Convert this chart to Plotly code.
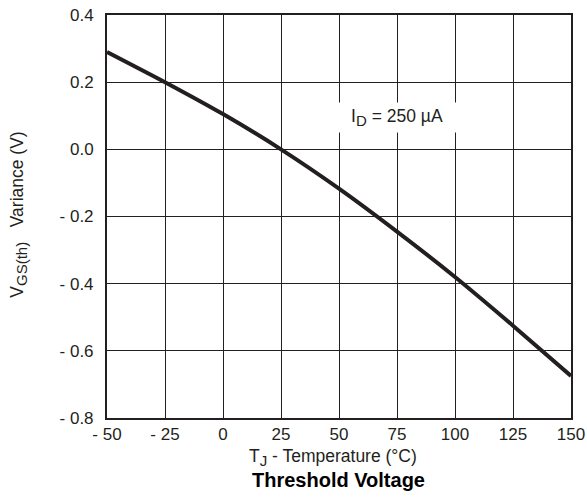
import plotly.graph_objects as go

temps = [-50, -25, 0, 25, 50, 75, 100, 125, 150]
variance = [0.29, 0.20, 0.105, 0.0, -0.117, -0.245, -0.38, -0.525, -0.675]

x_ticks = [-50, -25, 0, 25, 50, 75, 100, 125, 150]
x_labels = ["- 50", "- 25", "0", "25", "50", "75", "100", "125", "150"]
y_ticks = [0.4, 0.2, 0.0, -0.2, -0.4, -0.6, -0.8]
y_labels = ["0.4", "0.2", "0.0", "- 0.2", "- 0.4", "- 0.6", "- 0.8"]

ink = "#231f20"
font = "Liberation Sans, Arial, sans-serif"

def sub(s, size=15):
    return f"<sub><span style='font-size:{size}px'>{s}</span></sub>"

fig = go.Figure()
fig.add_trace(go.Scatter(x=temps, y=variance, mode="lines",
                         line=dict(color=ink, width=4, shape="spline", smoothing=0.6),
                         showlegend=False, hoverinfo="skip"))

fig.update_layout(
    width=587, height=497,
    margin=dict(l=107, r=16, t=15, b=79, autoexpand=False),
    paper_bgcolor="white", plot_bgcolor="white",
    font=dict(family=font, size=17, color=ink),
    xaxis=dict(range=[-50, 150], tickvals=x_ticks, ticktext=x_labels,
               showgrid=True, gridcolor=ink, gridwidth=1, zeroline=False,
               showline=True, linecolor=ink, linewidth=2, mirror=True,
               ticks="", ticklabelstandoff=0, automargin=False,
               tickfont=dict(size=17)),
    yaxis=dict(range=[-0.8, 0.4], tickvals=y_ticks, ticktext=y_labels,
               showgrid=True, gridcolor=ink, gridwidth=1, zeroline=False,
               showline=True, linecolor=ink, linewidth=2, mirror=True,
               ticks="", ticklabelstandoff=8, automargin=False,
               tickfont=dict(size=17)),
    annotations=[
        dict(x=75, y=0.095, xref="x", yref="y", showarrow=False,
             text="I" + sub("D") + " = 250 µA", bgcolor="white",
             width=120, height=29, borderpad=0,
             font=dict(size=17.5, color=ink)),
        dict(x=-0.19, y=0.504, xref="paper", yref="paper", showarrow=False,
             xanchor="center", yanchor="middle",
             text="V" + sub("GS(th)") + "&nbsp;&nbsp;&nbsp;Variance (V)", textangle=-90,
             font=dict(size=17.5, color=ink)),
        dict(x=0.486, y=-0.0968, xref="paper", yref="paper", showarrow=False,
             xanchor="center", yanchor="middle",
             text="T" + sub("J") + " - Temperature (°C)",
             font=dict(size=17.5, color=ink)),
        dict(x=0.498, y=-0.154, xref="paper", yref="paper", showarrow=False,
             xanchor="center", yanchor="middle",
             text="<b>Threshold Voltage</b>",
             font=dict(size=20, color="black")),
    ],
)

fig.write_html("out.html")
